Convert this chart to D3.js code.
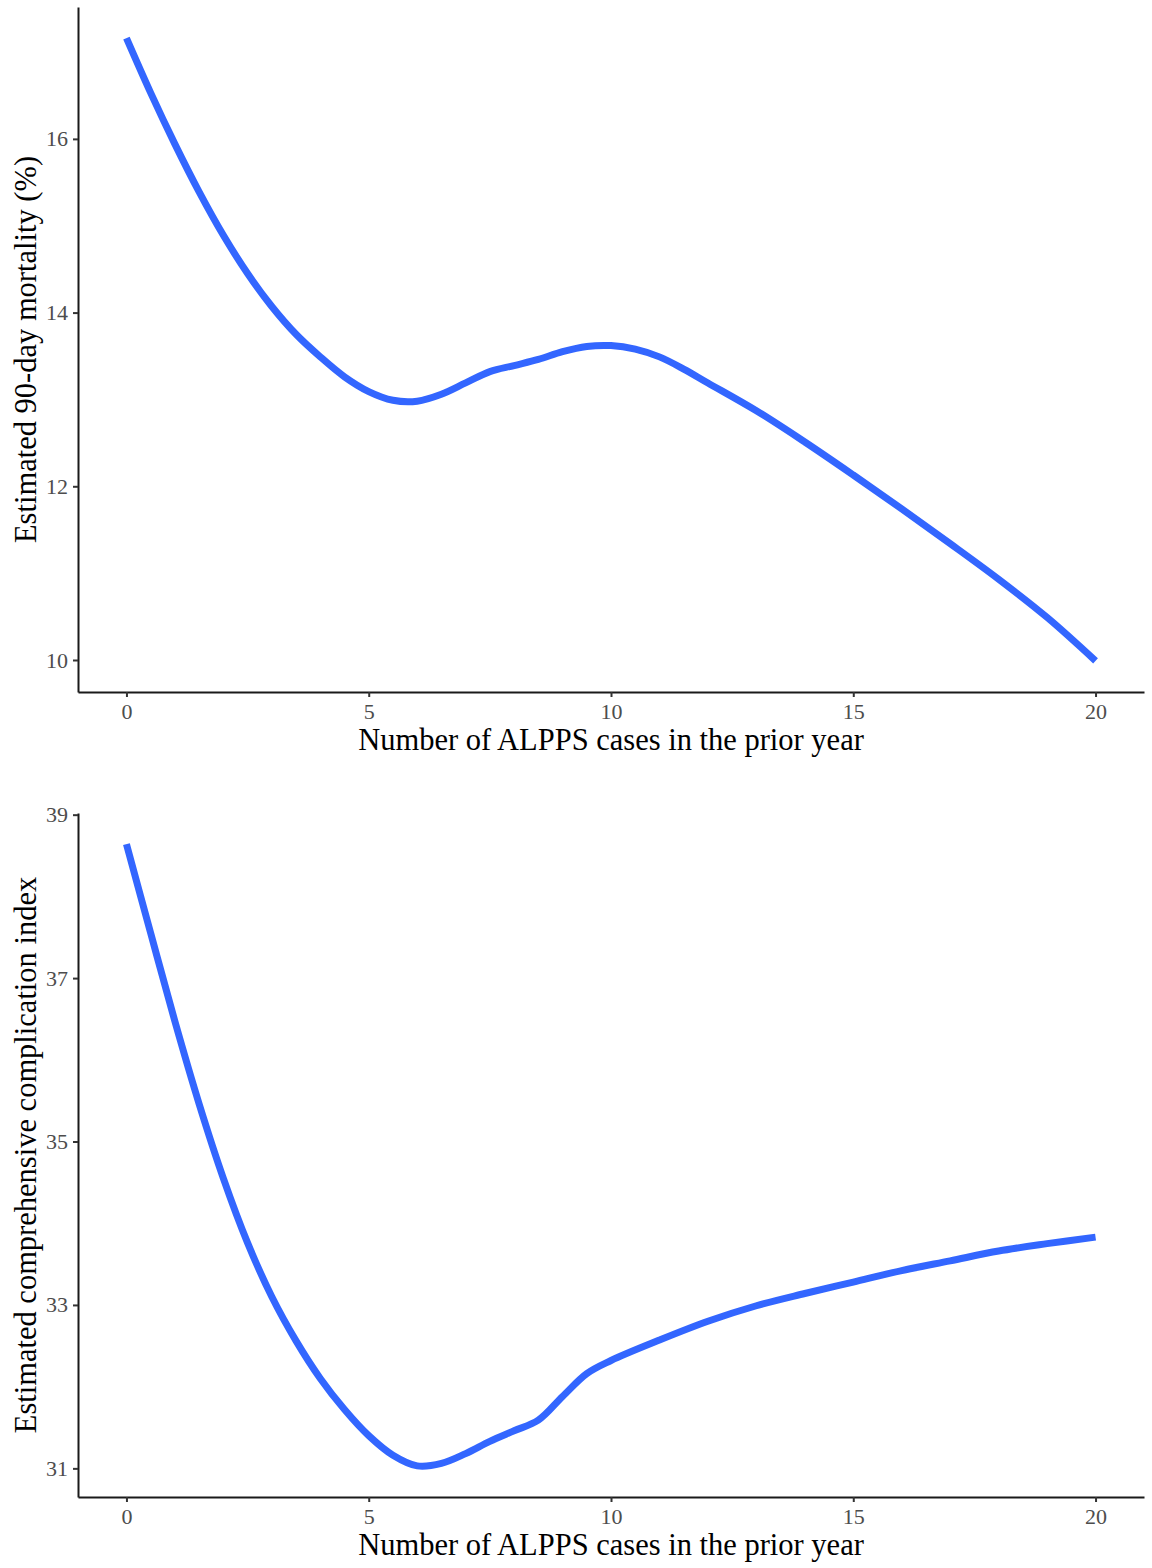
<!DOCTYPE html>
<html>
<head>
<meta charset="utf-8">
<script src="https://cdn.jsdelivr.net/npm/d3@7"></script>
<style>
  body { margin: 0; background: #fff; }
  svg { display: block; }
  text { font-family: "Liberation Serif", "Times New Roman", serif; }
</style>
</head>
<body>
<script>
(function() {
  'use strict';

  var width = 1152,
      height = 1568;

  // cases in the prior year (x) and the smoothed estimates
  var casesTop = [0, 0.5, 1, 1.5, 2, 2.5, 3, 3.5, 4, 4.5, 5, 5.5, 6, 6.5, 7, 7.5, 8, 8.5, 9, 9.5, 10, 10.5, 11, 11.5, 12, 13, 14, 15, 16, 17, 18, 19, 20];
  var mortality = [17.16, 16.53, 15.94, 15.39, 14.89, 14.45, 14.07, 13.75, 13.49, 13.26, 13.09, 12.99, 12.98, 13.06, 13.19, 13.32, 13.39, 13.46, 13.55, 13.61, 13.62, 13.58, 13.49, 13.35, 13.19, 12.87, 12.51, 12.13, 11.74, 11.34, 10.93, 10.49, 9.99];

  var casesBottom = [0, 0.5, 1, 1.5, 2, 2.5, 3, 3.5, 4, 4.5, 5, 5.5, 6, 6.5, 7, 7.5, 8, 8.5, 9, 9.5, 10, 11, 12, 13, 14, 15, 16, 17, 18, 19, 20];
  var cci = [38.64, 37.55, 36.47, 35.46, 34.55, 33.76, 33.10, 32.56, 32.10, 31.72, 31.40, 31.16, 31.03, 31.06, 31.18, 31.33, 31.46, 31.59, 31.88, 32.16, 32.32, 32.57, 32.80, 32.99, 33.14, 33.28, 33.42, 33.54, 33.66, 33.75, 33.83];

  var xTicks = [0, 5, 10, 15, 20];
  var yTicksTop = [10, 12, 14, 16];
  var yTicksBottom = [31, 33, 35, 37, 39];

  var xTitle = "Number of ALPPS cases in the prior year";

  var svg = d3.select("body").append("svg")
              .attr("width", width)
              .attr("height", height);

  var panels = [
    {xs: casesTop, ys: mortality, yTicks: yTicksTop, top: 7, bottom: 692,
     yTitle: "Estimated 90-day mortality (%)"},
    {xs: casesBottom, ys: cci, yTicks: yTicksBottom, top: 813, bottom: 1497,
     yTitle: "Estimated comprehensive complication index"}
  ];

  var left = 78, right = 1144;

  panels.forEach(function(p) {
    // ggplot style 5% expansion around the data
    var xr = d3.extent(p.xs), yr = d3.extent(p.ys);
    var xpad = (xr[1] - xr[0]) * 0.05, ypad = (yr[1] - yr[0]) * 0.05;

    var x = d3.scaleLinear().domain([xr[0] - xpad, xr[1] + xpad]).range([left, right]);
    var y = d3.scaleLinear().domain([yr[0] - ypad, yr[1] + ypad]).range([p.bottom, p.top]);

    var g = svg.append("g");

    var xAxis = g.append("g")
        .attr("transform", "translate(0," + p.bottom + ")")
        .call(d3.axisBottom(x).tickValues(xTicks).tickSize(5).tickPadding(6).tickSizeOuter(0));
    var yAxis = g.append("g")
        .attr("transform", "translate(" + left + ",0)")
        .call(d3.axisLeft(y).tickValues(p.yTicks).tickSize(5).tickPadding(5).tickSizeOuter(0));

    [xAxis, yAxis].forEach(function(a) {
      a.attr("font-size", 22).attr("font-family", "'Liberation Serif', serif");
      a.select(".domain").attr("stroke", "#1a1a1a").attr("stroke-width", 2);
      a.selectAll(".tick line").attr("stroke", "#333").attr("stroke-width", 2);
      a.selectAll(".tick text").attr("fill", "#4d4d4d");
    });
    xAxis.selectAll(".tick text").attr("dy", "0.72em");

    var line = d3.line()
        .x(function(d) { return x(d[0]); })
        .y(function(d) { return y(d[1]); })
        .curve(d3.curveCatmullRom.alpha(0.5));

    g.append("path")
      .datum(d3.zip(p.xs, p.ys))
      .attr("d", line)
      .attr("fill", "none")
      .attr("stroke", "#3366FF")
      .attr("stroke-width", 7);

    g.append("text")
      .attr("x", (left + right) / 2)
      .attr("y", p.bottom + 58)
      .attr("text-anchor", "middle")
      .attr("fill", "#000")
      .style("font-size", "30.5px")
      .text(xTitle);

    g.append("text")
      .attr("transform", "translate(36," + ((p.top + p.bottom) / 2) + ") rotate(-90)")
      .attr("text-anchor", "middle")
      .attr("fill", "#000")
      .style("font-size", "30.5px")
      .text(p.yTitle);
  });

})();
</script>
</body>
</html>
